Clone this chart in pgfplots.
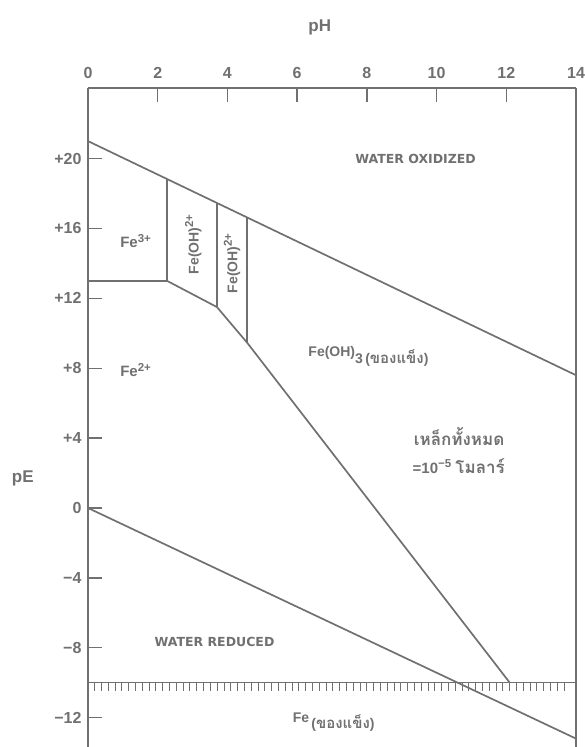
\documentclass[border=0pt]{standalone}
\usepackage{pgfplots}
\pgfplotsset{compat=1.18}
\usepackage{fontspec}
\setmainfont{Liberation Sans}
\newfontfamily\dejavu{DejaVu Sans}
\newfontfamily\thaifont[Script=Thai]{Loma}
\usetikzlibrary{decorations.pathreplacing}
\definecolor{ink}{RGB}{112,112,112}
\newcommand{\sups}[1]{\raisebox{5.5pt}{\fontsize{11.5}{11.5}\selectfont #1}}
\begin{document}
\begin{tikzpicture}
\begin{axis}[
  name=ax,
  scale only axis, width=488pt, height=659pt,
  xmin=0, xmax=14, ymin=-13.68, ymax=24.04,
  axis x line*=top,
  axis line style={draw=ink, line width=1.7pt},
  xtick={0,2,...,14},
  xticklabels={0,2,4,6,8,10,12,14},
  ytick={-12,-8,-4,0,4,8,12,16,20},
  yticklabels={−12,−8,−4,0,+4,+8,+12,+16,+20},
  ytick pos=left,
  tick align=inside,
  major tick length=14pt,
  tick style={draw=ink, line width=1.3pt},
  ticklabel style={text=ink, font=\bfseries\fontsize{16}{16}\selectfont},
  xticklabel style={yshift=6pt},
  yticklabel style={xshift=-3pt},
  clip=false,
]
% water stability lines
\addplot[ink, line width=1.7pt] coordinates {(0,21) (14,7.6)};
\addplot[ink, line width=1.7pt] coordinates {(0,0) (14,-13.2)};
% Fe3+/Fe2+
\addplot[ink, line width=1.7pt] coordinates {(0,13) (2.27,13)};
% verticals
\addplot[ink, line width=1.7pt] coordinates {(2.27,13) (2.27,18.83)};
\addplot[ink, line width=1.7pt] coordinates {(3.7,11.5) (3.7,17.46)};
\addplot[ink, line width=1.7pt] coordinates {(4.57,9.45) (4.57,16.63)};
% Fe2+ / Fe(OH)x boundary
\addplot[ink, line width=1.7pt] coordinates {(2.27,13) (3.7,11.5) (4.57,9.45) (12.1,-10)};
% Fe solid boundary with hatch
\addplot[ink, line width=1.5pt, postaction={draw, line width=1pt, decorate, decoration={border, segment length=6.8pt, amplitude=8pt, angle=-90}}] coordinates {(0,-10) (14,-10)};

\node[text=ink, font=\bfseries\fontsize{17}{17}\selectfont] at (axis cs:6.65,27.5) {pH};
\node[text=ink, font=\bfseries\fontsize{17}{17}\selectfont] at (axis cs:-1.87,1.7) {pE};
\node[text=ink, font=\dejavu\bfseries\fontsize{12.5}{12.5}\selectfont] at (axis cs:9.4,20) {WATER OXIDIZED};
\node[text=ink, font=\dejavu\bfseries\fontsize{12.5}{12.5}\selectfont, anchor=base] at (axis cs:3.63,-7.95) {WATER REDUCED};
\node[text=ink, font=\bfseries\fontsize{15}{15}\selectfont, anchor=base west, inner sep=0pt] at (axis cs:0.92,14.9) {Fe\sups{3+}};
\node[text=ink, font=\bfseries\fontsize{15}{15}\selectfont, anchor=base west, inner sep=0pt] at (axis cs:0.92,7.5) {Fe\sups{2+}};
\node[text=ink, font=\bfseries\fontsize{14}{14}\selectfont, rotate=90] at (axis cs:3.02,15.1) {Fe(OH)\sups{2+}};
\node[text=ink, font=\bfseries\fontsize{14}{14}\selectfont, rotate=90] at (axis cs:4.13,14.0) {Fe(OH)\sups{2+}};
\node[text=ink, font=\bfseries\fontsize{14}{14}\selectfont, anchor=base west, inner sep=0pt] at (axis cs:6.32,8.65) {Fe(OH)\raisebox{-7pt}{3\,({\thaifont\bfseries\fontsize{15}{15}\selectfont ของแข็ง})}};
\node[text=ink, font=\bfseries\fontsize{17}{17}\selectfont, anchor=base west, inner sep=0pt] at (axis cs:9.34,3.6) {\thaifont\bfseries เหล็กทั้งหมด};
\node[text=ink, font=\bfseries\fontsize{15}{15}\selectfont, anchor=base west, inner sep=0pt] at (axis cs:9.31,2.0) {=10\sups{−5} {\thaifont\bfseries\fontsize{17}{17}\selectfont โมลาร์}};
\node[text=ink, font=\bfseries\fontsize{14}{14}\selectfont, anchor=base west, inner sep=0pt] at (axis cs:5.87,-12.3) {Fe\raisebox{-6pt}{\,({\thaifont\bfseries\fontsize{15}{15}\selectfont ของแข็ง})}};
\end{axis}
\pgfresetboundingbox
\path[use as bounding box] ([xshift=-88pt]ax.south west) rectangle ([xshift=9pt,yshift=88pt]ax.north east);
\end{tikzpicture}
\end{document}
